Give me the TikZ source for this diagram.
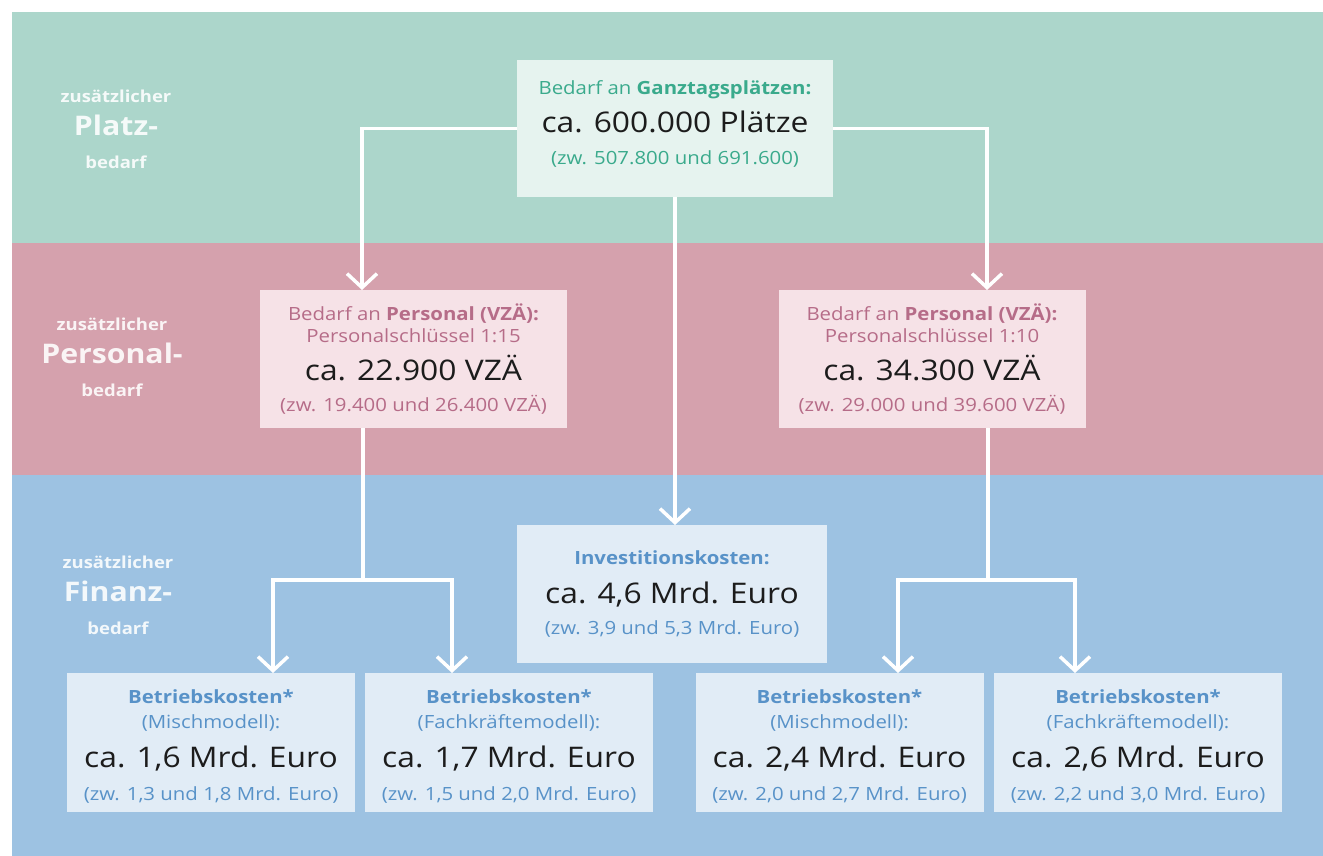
\documentclass[tikz,border=0pt]{standalone}
\usepackage{fontspec}
\setmainfont{Open Sans}[FakeStretch=1.12]
\usepackage{xcolor}
\definecolor{gruenBand}{RGB}{172,214,203}
\definecolor{rosaBand}{RGB}{213,161,173}
\definecolor{blauBand}{RGB}{157,194,226}
\definecolor{gruenBox}{RGB}{230,243,239}
\definecolor{rosaBox}{RGB}{246,226,231}
\definecolor{blauBox}{RGB}{225,236,246}
\definecolor{gruenText}{RGB}{58,170,140}
\definecolor{rosaText}{RGB}{182,108,136}
\definecolor{blauText}{RGB}{88,146,200}
\definecolor{schwarz}{RGB}{28,28,28}
\usepackage{tikz}
\usetikzlibrary{arrows.meta,positioning}
\tikzstyle{kasten}=[rectangle, inner sep=0pt, outer sep=0pt,
                    align=center, text=schwarz,
                    font=\fontsize{18.2}{34}\selectfont]
\tikzstyle{platzbox}=[kasten, fill=gruenBox, minimum width=316pt, minimum height=137pt]
\tikzstyle{persbox}=[kasten, fill=rosaBox, minimum width=307pt, minimum height=138pt]
\tikzstyle{invbox}=[kasten, fill=blauBox, minimum width=310pt, minimum height=138pt]
\tikzstyle{bkbox}=[kasten, fill=blauBox, minimum width=288pt, minimum height=139pt]
\tikzstyle{seite}=[align=center, inner sep=0pt,
                   font=\bfseries\fontsize{16.5}{33}\selectfont]
\tikzstyle{linie}=[draw=white, line width=3.5pt]
\tikzstyle{pfeil}=[linie, -{Straight Barb[length=14pt,width=30pt]}]
\newcommand{\gross}[1]{{\fontsize{28.4}{34}\selectfont #1}}
\newcommand{\wort}[1]{{\fontsize{27}{33}\selectfont #1}}

\begin{document}
\begin{tikzpicture}[x=1pt,y=-1pt]

    \fill[white] (0,0) rectangle (1323,856);
    \fill[gruenBand] (12,12) rectangle (1323,243);
    \fill[rosaBand] (12,243) rectangle (1323,475);
    \fill[blauBand] (12,475) rectangle (1323,856);

    %Seitenbeschriftung
    \node[seite, text=white!88!gruenBand] (platzL) at (116,129)
        {zusätzlicher\\\wort{Platz-}\\bedarf};
    \node[seite, text=white!88!rosaBand] (persL0) at (112,357)
        {zusätzlicher\\\wort{Personal-}\\bedarf};
    \node[seite, text=white!88!blauBand] (finL) at (118,595)
        {zusätzlicher\\\wort{Finanz-}\\bedarf};

    %Platzbedarf
    \node[platzbox] (platz) at (675,128.5)
        {{\color{gruenText}Bedarf an \textbf{Ganztagsplätzen:}}\\[4pt]
         \gross{ca. 600.000 Plätze}\\[-2pt]
         {\color{gruenText}(zw. 507.800 und 691.600)}\rule[-11pt]{0pt}{0pt}};

    %Personalbedarf, 1:15 und 1:10
    \node[persbox] (persL) at (413.5,359)
        {{\color{rosaText}Bedarf an \textbf{Personal (VZÄ):}}\\[-12pt]
         {\color{rosaText}Personalschlüssel 1:15}\\[4pt]
         \gross{ca. 22.900 VZÄ}\\[-3pt]
         {\color{rosaText}(zw. 19.400 und 26.400 VZÄ)}};
    \node[persbox] (persR) at (932,359)
        {{\color{rosaText}Bedarf an \textbf{Personal (VZÄ):}}\\[-12pt]
         {\color{rosaText}Personalschlüssel 1:10}\\[4pt]
         \gross{ca. 34.300 VZÄ}\\[-3pt]
         {\color{rosaText}(zw. 29.000 und 39.600 VZÄ)}};

    %Investitionskosten
    \node[invbox] (invest) at (672,594)
        {{\color{blauText}\textbf{Investitionskosten:}}\\[5pt]
         \gross{ca. 4,6 Mrd. Euro}\\[-3pt]
         {\color{blauText}(zw. 3,9 und 5,3 Mrd. Euro)}};

    %Betriebskosten
    \node[bkbox] (bk1) at (211,742.5)
        {\rule{0pt}{22pt}{\color{blauText}\textbf{Betriebskosten*}}\\[-9pt]
         {\color{blauText}(Mischmodell):}\\[5pt]
         \gross{ca. 1,6 Mrd. Euro}\\[-1pt]
         {\color{blauText}(zw. 1,3 und 1,8 Mrd. Euro)}};
    \node[bkbox] (bk2) at (509,742.5)
        {\rule{0pt}{22pt}{\color{blauText}\textbf{Betriebskosten*}}\\[-9pt]
         {\color{blauText}(Fachkräftemodell):}\\[5pt]
         \gross{ca. 1,7 Mrd. Euro}\\[-1pt]
         {\color{blauText}(zw. 1,5 und 2,0 Mrd. Euro)}};
    \node[bkbox] (bk3) at (839.5,742.5)
        {\rule{0pt}{22pt}{\color{blauText}\textbf{Betriebskosten*}}\\[-9pt]
         {\color{blauText}(Mischmodell):}\\[5pt]
         \gross{ca. 2,4 Mrd. Euro}\\[-1pt]
         {\color{blauText}(zw. 2,0 und 2,7 Mrd. Euro)}};
    \node[bkbox] (bk4) at (1138,742.5)
        {\rule{0pt}{22pt}{\color{blauText}\textbf{Betriebskosten*}}\\[-9pt]
         {\color{blauText}(Fachkräftemodell):}\\[5pt]
         \gross{ca. 2,6 Mrd. Euro}\\[-1pt]
         {\color{blauText}(zw. 2,2 und 3,0 Mrd. Euro)}};

    %Pfeile
    \draw[pfeil] (platz.west) -| ([xshift=-51.5pt]persL.north);
    \draw[pfeil] (platz.east) -| ([xshift=55pt]persR.north);
    \draw[pfeil] (platz.south) -- (platz.south |- invest.north);

    \draw[linie] ([xshift=-50.5pt]persL.south) -- ++(0,152) coordinate (gabelL);
    \draw[pfeil] (gabelL) -| ([xshift=62pt]bk1.north);
    \draw[pfeil] (gabelL) -| ([xshift=-57pt]bk2.north);

    \draw[linie] ([xshift=56pt]persR.south) -- ++(0,152) coordinate (gabelR);
    \draw[pfeil] (gabelR) -| ([xshift=58.5pt]bk3.north);
    \draw[pfeil] (gabelR) -| ([xshift=-63pt]bk4.north);

\end{tikzpicture}
\end{document}
